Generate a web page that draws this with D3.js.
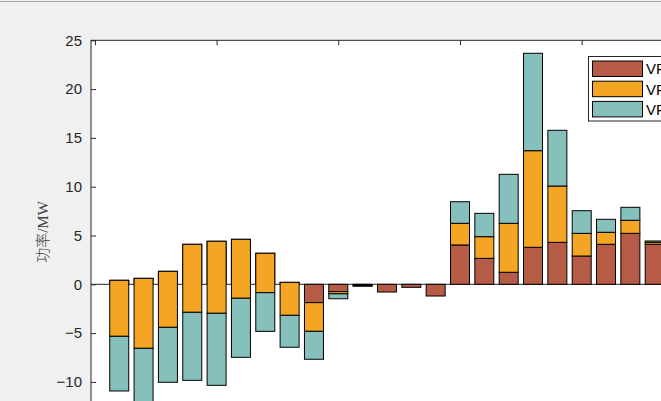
<!DOCTYPE html>
<html>
<head>
<meta charset="utf-8">
<script src="https://cdn.jsdelivr.net/npm/d3@7"></script>
<style>
  html, body { margin: 0; padding: 0; background: #f0f0f0; overflow: hidden; }
  svg { display: block; }
</style>
</head>
<body>
<svg id="chart" width="661" height="401"></svg>
<script>
// ---- data ----
const periods = d3.range(1, 24);
const seriesNames = ["VPP1", "VPP2", "VPP3"];
const vpp1 = [0.41, 0.61, 1.33, 4.10, 4.41, 4.61, 3.18, 0.20, -1.88, -0.75, -0.08, -0.79, -0.31, -1.20,
              4.03, 2.66, 1.23, 3.79, 4.30, 2.90, 4.10, 5.22, 4.10];
const vpp2 = [-5.74, -7.17, -5.74, -6.97, -7.38, -6.04, -4.04, -3.38, -2.94, -0.23, -0.06, 0, 0, 0,
              2.22, 2.22, 5.02, 9.90, 5.77, 2.32, 1.23, 1.34, 0.20];
const vpp3 = [-5.60, -6.30, -5.63, -6.97, -7.38, -6.05, -3.96, -3.27, -2.86, -0.50, -0.06, 0, 0, 0,
              2.21, 2.39, 5.02, 9.98, 5.71, 2.32, 1.33, 1.33, 0.14];
const yTicks = [-10, -5, 0, 5, 10, 15, 20, 25];
const xTicks = [0, 5, 10, 15, 20, 25];
const colors = ["#b55b46", "#f4a523", "#86c0bc"];
const yLabel = ["功率", "/MW"];

// ---- scales ----
const svg = d3.select("#chart");
const axLeft = 91, axTop = 40.3;
const unitX = 24.34, unitY = 9.76;
const x = d3.scaleLinear().domain([-0.16, 25.16]).range([axLeft, axLeft + 25.32 * unitX]);
const y = d3.scaleLinear().domain([-15, 25]).range([axTop + 40 * unitY, axTop]);
const barW = 19;

// background + top border line
svg.append("rect").attr("x", 0).attr("y", 0).attr("width", 661).attr("height", 401).attr("fill", "#f0f0f0");
svg.append("line").attr("x1", 0).attr("x2", 661).attr("y1", 1.5).attr("y2", 1.5)
  .attr("stroke", "#a8a8a8").attr("stroke-width", 1);

// axes area
const axRight = x(25.16), axBottom = y(-15);
svg.append("rect").attr("x", axLeft).attr("y", axTop).attr("width", axRight - axLeft).attr("height", axBottom - axTop)
  .attr("fill", "#ffffff");

// baseline
svg.append("line").attr("x1", axLeft).attr("x2", axRight).attr("y1", y(0)).attr("y2", y(0))
  .attr("stroke", "#262626").attr("stroke-width", 1);

// stacked bars (cumulative stacking, later series drawn on top)
const series = [vpp1, vpp2, vpp3];
const segs = [];
periods.forEach((p, i) => {
  let start = 0;
  series.forEach((s, k) => {
    const v = s[i];
    const end = start + v;
    segs.push({ p, k, y0: start, y1: end });
    start = end;
  });
});
const gBars = svg.append("g");
[0, 1, 2].forEach(k => {
  gBars.selectAll(null).data(segs.filter(d => d.k === k && d.y0 !== d.y1)).enter().append("rect")
    .attr("x", d => x(d.p) - barW / 2)
    .attr("width", barW)
    .attr("y", d => Math.min(y(d.y0), y(d.y1)))
    .attr("height", d => Math.abs(y(d.y0) - y(d.y1)))
    .attr("fill", colors[k])
    .attr("stroke", "#000")
    .attr("stroke-width", 1);
});

// axes box
svg.append("rect").attr("x", axLeft).attr("y", axTop).attr("width", axRight - axLeft).attr("height", axBottom - axTop)
  .attr("fill", "none").attr("stroke", "#262626").attr("stroke-width", 1);

// y axis
const yAxis = d3.axisLeft(y).tickValues(yTicks).tickSizeInner(-5).tickSizeOuter(0).tickPadding(9);
const gy = svg.append("g").attr("transform", `translate(${axLeft},0)`).call(yAxis);
gy.select(".domain").remove();
gy.selectAll("line").attr("stroke", "#262626");
gy.selectAll("text").attr("fill", "#262626").attr("font-family", "'Liberation Sans', Arial, sans-serif")
  .attr("font-size", 15);

// top ticks
const xAxisTop = d3.axisTop(x).tickValues(xTicks).tickSizeInner(-5).tickSizeOuter(0).tickFormat("");
const gx = svg.append("g").attr("transform", `translate(0,${axTop})`).call(xAxisTop);
gx.select(".domain").remove();
gx.selectAll("line").attr("stroke", "#262626");

// y label
const yl = svg.append("text").attr("transform", "translate(48,232) rotate(-90)")
  .attr("text-anchor", "middle").attr("fill", "#404040").attr("font-size", 15);
yl.append("tspan").attr("font-family", "'Noto Sans CJK SC', sans-serif").attr("font-weight", 300).text(yLabel[0]);
yl.append("tspan").attr("font-family", "'Liberation Serif', 'Times New Roman', serif").text(yLabel[1]);

// legend
const lg = svg.append("g");
lg.append("rect").attr("x", 588.5).attr("y", 56.5).attr("width", 120).attr("height", 64.5)
  .attr("fill", "#fff").attr("stroke", "#262626").attr("stroke-width", 1);
seriesNames.forEach((name, k) => {
  const yy = 61 + k * 20.2;
  lg.append("rect").attr("x", 592.5).attr("y", yy).attr("width", 50).attr("height", 15.5)
    .attr("fill", colors[k]).attr("stroke", "#000").attr("stroke-width", 1);
  lg.append("text").attr("x", 646).attr("y", yy + 8).attr("dy", "0.36em")
    .attr("font-family", "'Liberation Sans', Arial, sans-serif").attr("font-size", 15)
    .attr("fill", "#000").text(name);
});
</script>
</body>
</html>
